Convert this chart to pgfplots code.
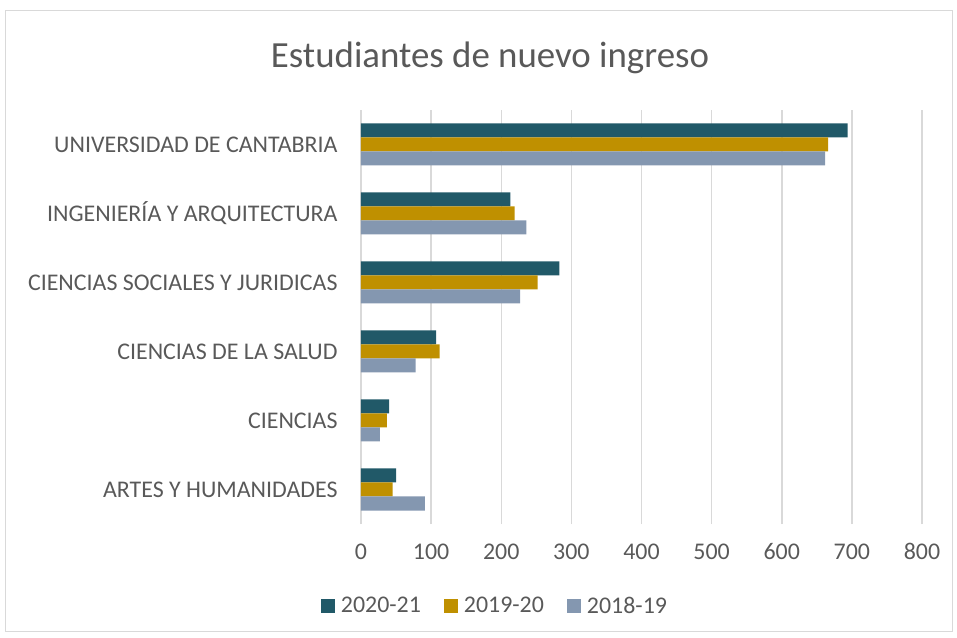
\documentclass[border=0pt]{standalone}
\usepackage{pgfplots}
\pgfplotsset{compat=1.18}
\usepackage{fontspec}
\setmainfont{Carlito}
\definecolor{c2021}{HTML}{215968}
\definecolor{c1920}{HTML}{BF9000}
\definecolor{c1819}{HTML}{8497B0}
\definecolor{txt}{HTML}{595959}
\definecolor{gridgray}{HTML}{D9D9D9}
\begin{document}
\begin{tikzpicture}
  \path (0,0) rectangle (957bp,638bp);
  \draw[gridgray, line width=1bp] (5bp,6bp) rectangle (952bp,627bp);
  \node[text=txt, font=\fontsize{37}{44}\selectfont] at (490bp,580bp) {Estudiantes de nuevo ingreso};
  \begin{axis}[
      at={(361bp,114bp)}, anchor=south west,
      scale only axis, width=561bp, height=414bp,
      xbar, bar width=14bp,
      xmin=0, xmax=800, ymin=-0.5, ymax=5.5,
      xtick={0,100,...,800}, ytick={0,...,5},
      yticklabels={ARTES Y HUMANIDADES, CIENCIAS, CIENCIAS DE LA SALUD,
        CIENCIAS SOCIALES Y JURIDICAS, INGENIERÍA Y ARQUITECTURA, UNIVERSIDAD DE CANTABRIA},
      axis line style={draw=none},
      tick style={draw=none},
      xmajorgrids, grid style={gridgray, line width=1.5bp},
      /pgf/number format/assume math mode=true,
      ticklabel style={font=\fontsize{24}{28}\selectfont, text=txt, inner sep=0pt},
      yticklabel style={anchor=east, xshift=-19bp},
      xticklabel style={anchor=base, yshift=-35bp},
      legend columns=-1,
      legend style={at={(0.237,-0.198)}, anchor=center, draw=none, fill=none,
        font=\fontsize{24}{28}\selectfont, text=txt,
        nodes={inner sep=0pt},
        /tikz/every odd column/.style={column sep=6bp},
        /tikz/every even column/.style={column sep=23bp}},
      legend image code/.code={\fill[#1] (0bp,-7bp) rectangle (14bp,7bp);},
    ]
    % 2020-21
    \addplot[fill=c2021, draw=none, bar shift=14bp] coordinates {
      (50,0) (40,1) (107,2) (283,3) (213,4) (694,5)
    };
    % 2019-20
    \addplot[fill=c1920, draw=none, bar shift=0bp] coordinates {
      (45,0) (37,1) (112,2) (252,3) (219,4) (666,5)
    };
    % 2018-19
    \addplot[fill=c1819, draw=none, bar shift=-14bp] coordinates {
      (91,0) (27,1) (78,2) (227,3) (236,4) (662,5)
    };
    \legend{2020-21, 2019-20, 2018-19}
  \end{axis}
\end{tikzpicture}
\end{document}
